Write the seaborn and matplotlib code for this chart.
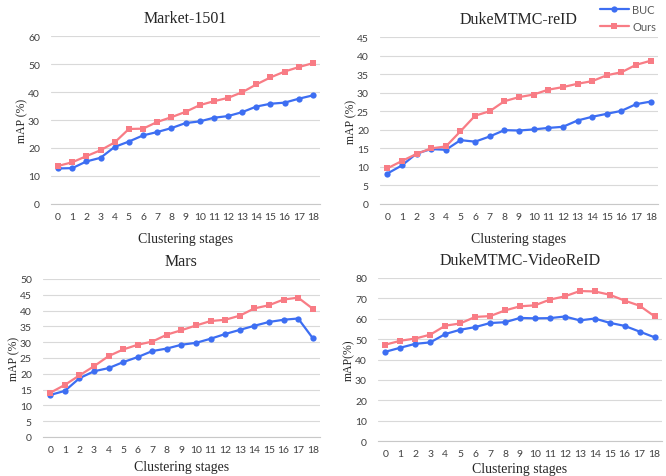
import matplotlib
matplotlib.use("Agg")
import matplotlib.pyplot as plt
import numpy as np
import pandas as pd
import seaborn as sns

stages = list(range(19))

market_buc = [12.7, 12.8, 15.2, 16.5, 20.4, 22.3, 24.5, 25.7, 27.1, 28.9, 29.5, 30.8, 31.4, 32.8, 34.8, 35.8, 36.2, 37.6, 38.8]
market_ours = [13.6, 14.9, 17.1, 19.2, 22.0, 26.8, 26.9, 29.3, 31.0, 32.9, 35.3, 36.7, 37.9, 39.9, 42.7, 45.2, 47.3, 48.9, 50.3]

duke_buc = [8.2, 10.4, 13.6, 14.8, 14.6, 17.2, 16.8, 18.2, 19.9, 19.8, 20.1, 20.5, 20.8, 22.5, 23.5, 24.3, 25.1, 26.9, 27.6]
duke_ours = [9.6, 11.6, 13.5, 15.0, 15.5, 19.6, 23.8, 25.0, 27.7, 28.8, 29.5, 30.8, 31.5, 32.4, 33.1, 34.7, 35.5, 37.5, 38.6]

mars_buc = [13.3, 14.6, 18.6, 20.8, 21.8, 23.7, 25.3, 27.2, 28.0, 29.2, 29.8, 31.1, 32.6, 33.9, 35.2, 36.4, 37.1, 37.5, 31.3]
mars_ours = [14.0, 16.5, 19.5, 22.4, 25.6, 27.7, 29.2, 30.2, 32.4, 33.8, 35.3, 36.7, 37.1, 38.4, 40.7, 41.7, 43.5, 44.1, 40.6]

video_buc = [43.8, 45.8, 47.7, 48.4, 52.5, 54.6, 55.9, 57.9, 58.3, 60.4, 60.2, 60.3, 61.1, 59.2, 60.1, 58.0, 56.5, 53.7, 50.9]
video_ours = [47.3, 49.2, 50.3, 52.2, 56.6, 57.7, 60.9, 61.3, 64.1, 66.1, 66.6, 69.4, 71.0, 73.6, 73.4, 71.8, 68.9, 66.4, 61.2]

sns.set_style("white")
plt.rcParams["font.family"] = ["Lato", "DejaVu Sans"]

BLUE = "#3d6ef2"
PINK = "#f87c85"
W, H = 666, 477


def box(left, right, top, bottom):
    return [left / W, 1 - bottom / H, (right - left) / W, (bottom - top) / H]


# title, buc, ours, ymax, ystep, axes box, ylabel, xlabel pad
panels = [
    ("Market-1501", market_buc, market_ours, 60, 10, box(51, 320, 37, 205), "mAP (%)", 8),
    ("DukeMTMC-reID", duke_buc, duke_ours, 45, 5, box(380, 658, 38, 205), "mAP (%)", 8),
    ("Mars", mars_buc, mars_ours, 50, 5, box(43, 320, 280, 438), "mAP (%)", 4),
    ("DukeMTMC-VideoReID", video_buc, video_ours, 80, 10, box(378, 662, 279, 442), "mAP(%)", 2.5),
]

fig = plt.figure(figsize=(W / 100, H / 100), dpi=100)

for title, buc, ours, ymax, step, pos, ylab, xpad in panels:
    ax = fig.add_axes(pos)
    df = pd.DataFrame({"stage": stages * 2,
                       "mAP": buc + ours,
                       "method": ["BUC"] * 19 + ["Ours"] * 19})
    sns.lineplot(data=df, x="stage", y="mAP", hue="method", style="method",
                 palette={"BUC": BLUE, "Ours": PINK},
                 markers={"BUC": "o", "Ours": "s"}, dashes=False,
                 markersize=4.5, markeredgewidth=0, linewidth=1.6,
                 ax=ax, legend=(title == "DukeMTMC-reID"))
    ax.set_xlim(-0.5, 18.5)
    ax.set_ylim(0, ymax)
    ax.set_yticks(np.arange(0, ymax + 1, step))
    ax.set_xticks(stages)
    ax.set_xticks(np.arange(-0.5, 19, 1), minor=True)
    ax.tick_params(axis="x", which="major", length=0, pad=6, labelsize=7.5, labelcolor="#404040")
    ax.tick_params(axis="x", which="minor", length=4, width=0.6, color="#c8c8c8", direction="out")
    ax.tick_params(axis="y", length=0, pad=8, labelsize=7.5, labelcolor="#404040")
    ax.yaxis.grid(True, color="#d9d9d9", linewidth=0.8)
    ax.set_axisbelow(True)
    for s in ["top", "right", "left"]:
        ax.spines[s].set_visible(False)
    ax.spines["bottom"].set_color("#c8c8c8")
    ax.spines["bottom"].set_linewidth(0.8)
    ax.set_title(title, family="Liberation Serif", fontsize=11.5, pad=10)
    ax.set_xlabel("Clustering stages", family="Liberation Serif", fontsize=10, labelpad=xpad)
    ax.set_ylabel(ylab, family="Liberation Serif", fontsize=8.5, labelpad=0)
    if ax.get_legend() is not None:
        handles, labels = ax.get_legend_handles_labels()
        ax.get_legend().remove()
        fig.legend(handles, labels, loc="upper right", bbox_to_anchor=(1.0, 1.01),
                   frameon=False, fontsize=8, labelcolor="#595959",
                   handlelength=2.6, handletextpad=0.3, labelspacing=0.55)

fig.savefig("out.png", dpi=100)
